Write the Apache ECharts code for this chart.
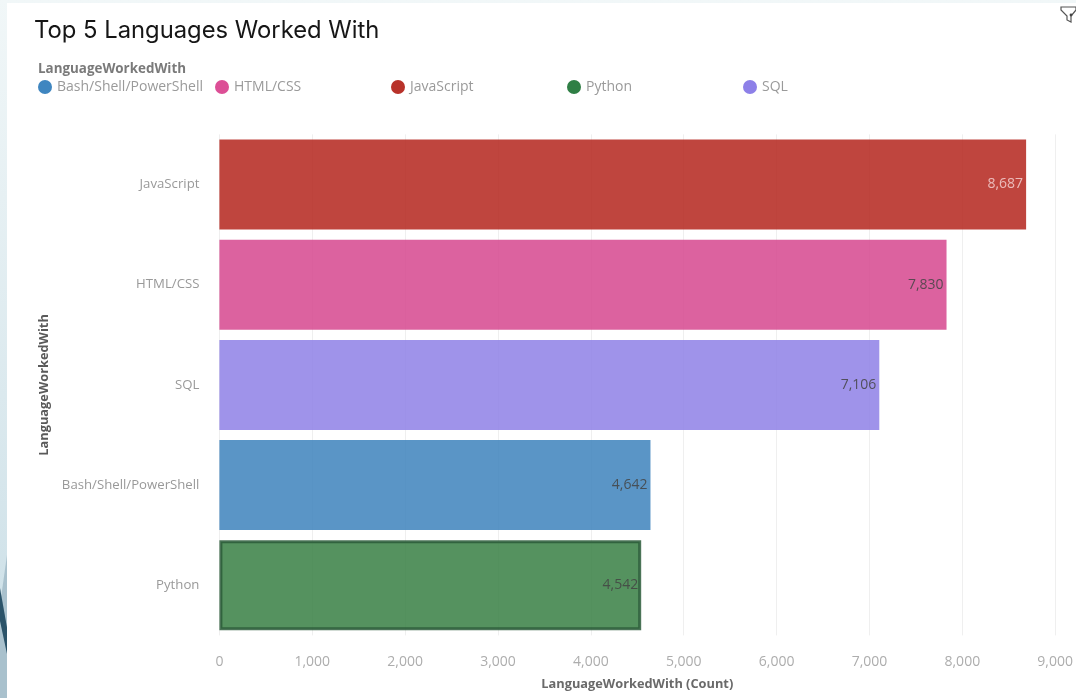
<!DOCTYPE html>
<html><head><meta charset="utf-8">
<style>
html,body{margin:0;padding:0;width:1076px;height:698px;overflow:hidden;background:linear-gradient(180deg,#f1f7f8 0%,#d0e2e9 85%,#c4d9e1 100%);}
#panel{position:absolute;left:7px;top:3px;width:1069px;height:695px;background:#fff;}
#light{position:absolute;left:0;top:555px;width:7px;height:143px;background:#a9c1cd;clip-path:polygon(100% 0,100% 100%,0 100%,0 35%);}
#shard{position:absolute;left:0;top:588px;width:7px;height:66px;background:#2b5369;clip-path:polygon(0 0,100% 60%,100% 100%,0 50%);}
#c{position:absolute;left:0;top:0;width:1076px;height:698px;}
</style>
<script src="https://cdn.jsdelivr.net/npm/echarts@6/dist/echarts.min.js"></script>
</head><body>
<div id="light"></div><div id="shard"></div><div id="panel"></div><div id="c"></div>
<script>
const categories = ['JavaScript','HTML/CSS','SQL','Bash/Shell/PowerShell','Python'];
const values = [8687,7830,7106,4642,4542];
const legendNames = ['Bash/Shell/PowerShell','HTML/CSS','JavaScript','Python','SQL'];
const legendLefts = [33,210,386,562,738];
const colors = {'Bash/Shell/PowerShell':'#3f86c0','HTML/CSS':'#dc4f96','JavaScript':'#b8322a','Python':'#2f7f45','SQL':'#8d80e8'};
const barColors = {'Bash/Shell/PowerShell':'#3d83bc','HTML/CSS':'#d6468e','JavaScript':'#b4251c','Python':'#377f43','SQL':'#8e80e6'};
const labelColors = {'JavaScript':'#f3d0d0'};
const font = '"Open Sans"';
const chart = echarts.init(document.getElementById('c'), null, {renderer:'canvas'});
chart.setOption({
  animation:false,
  backgroundColor:'transparent',
  title:[
    {text:'Top 5 Languages Worked With',left:29,top:14,textStyle:{fontFamily:'Inter',fontWeight:400,fontSize:23.8,color:'#161616'}},
    {text:'LanguageWorkedWith',left:33,top:58,textStyle:{fontFamily:font,fontWeight:700,fontSize:13.4,color:'#7a7a7a'}}
  ],
  legend:legendNames.map((n,i)=>({
    data:[{name:n,itemStyle:{color:colors[n],opacity:1,borderWidth:0}}],
    left:legendLefts[i],top:75,icon:'circle',itemWidth:14,itemHeight:14,itemGap:0,
    selectedMode:false,
    textStyle:{fontFamily:font,fontSize:14,color:'#9a9a9a',padding:[3,0,0,0]}
  })),
  grid:{left:219.4,top:134.4,width:836.5,height:501},
  xAxis:{type:'value',min:0,max:9000,interval:1000,
    name:'LanguageWorkedWith (Count)',nameLocation:'middle',nameGap:42,
    nameTextStyle:{fontFamily:font,fontWeight:700,fontSize:12.8,color:'#6a6a6a'},
    axisLine:{show:false},axisTick:{show:false},
    axisLabel:{fontFamily:font,fontSize:14,color:'#adadad',margin:20,hideOverlap:false,
      formatter:v=>v.toLocaleString('en-US')},
    splitLine:{show:true,lineStyle:{color:'#efefef',width:1}}},
  yAxis:{type:'category',data:categories,inverse:true,
    name:'LanguageWorkedWith',nameLocation:'middle',nameGap:161,
    nameTextStyle:{fontFamily:font,fontWeight:700,fontSize:12.8,color:'#5a5a5a'},
    axisLine:{show:false},axisTick:{show:false},splitLine:{show:false},
    axisLabel:{fontFamily:font,fontSize:13.2,color:'#999999',margin:20,padding:[2,0,0,0]}},
  series:legendNames.map(n=>({
    name:n,type:'bar',stack:'all',barWidth:90,
    data:categories.map((c,i)=>c===n?values[i]:null),
    itemStyle:{color:barColors[n],opacity:0.85,
      borderColor:n==='Python'?'#2c5c3a':'transparent',borderWidth:n==='Python'?3:0},
    label:{show:true,position:'insideRight',distance:3,fontFamily:font,fontSize:14,
      color:labelColors[n]||'#444444',formatter:p=>p.value==null?'':p.value.toLocaleString('en-US')}
  })),
  graphic:[
    {type:'polygon',shape:{points:[[1061,7],[1076,7],[1076,10],[1071,16],[1071,22],[1067,20],[1067,16],[1061,10]]},
      style:{fill:'none',stroke:'#555',lineWidth:1.2}},
    {type:'circle',shape:{cx:1071,cy:15,r:1.4},style:{fill:'#444'}}]
});
</script></body></html>
